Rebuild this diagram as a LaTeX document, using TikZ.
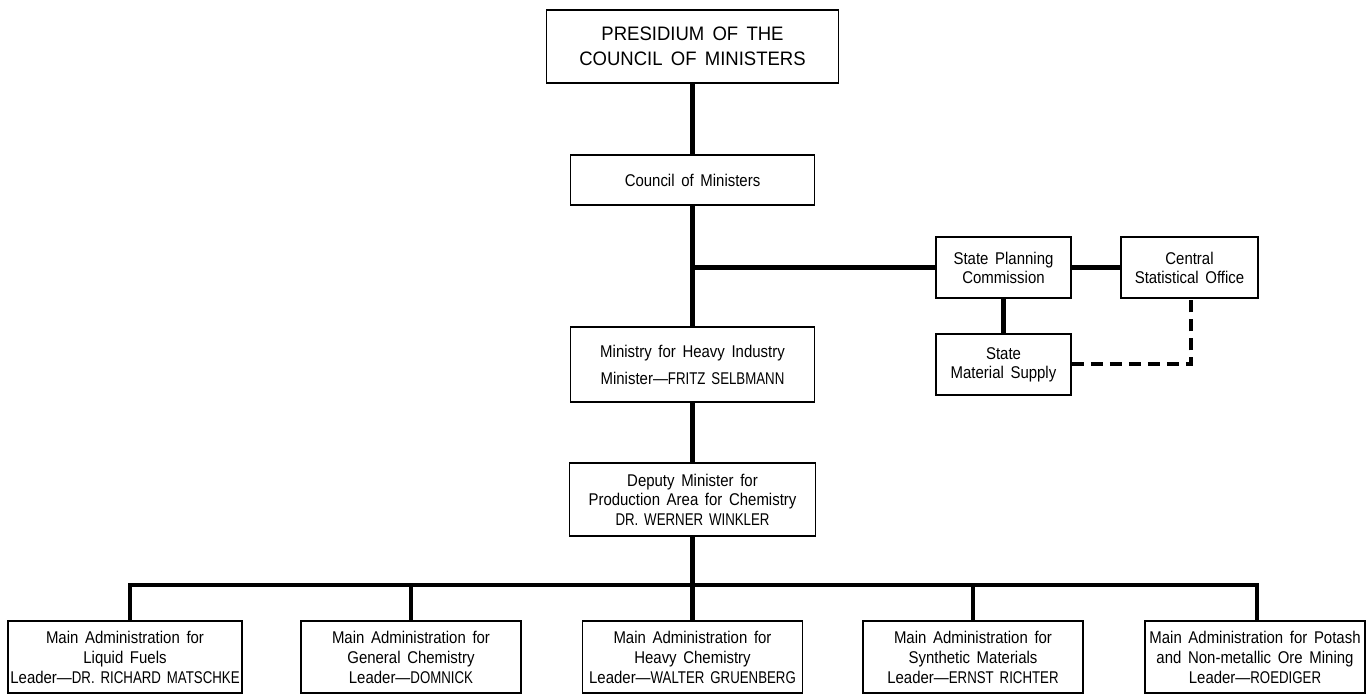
\documentclass[tikz,border=0pt]{standalone}
\usepackage{fontspec}
\setmainfont[FakeStretch=0.88,WordSpace=1.6]{Liberation Sans}
\newfontfamily\capsfont[FakeStretch=0.78,WordSpace=1.6]{Liberation Sans}
\newfontfamily\presfont[FakeStretch=0.95,WordSpace=1.6]{Liberation Sans}
\newcommand{\Cp}[1]{{\capsfont #1}}
\begin{document}
\begin{tikzpicture}[x=1pt,y=-1pt,
  box/.style={draw, line width=1.5pt, inner sep=0pt, align=center, fill=white,
    font=\fontsize{17}{20}\selectfont},
  link/.style={line width=4.5pt},
  dlink/.style={line width=4pt, dash pattern=on 12pt off 7pt}]
\useasboundingbox (0,0) rectangle (1370,694);
% nodes
\node[box, minimum width=292pt, minimum height=73pt, font=\presfont\fontsize{19.5}{25}\selectfont] (pres) at (692.5,46.5) {PRESIDIUM OF THE\\COUNCIL OF MINISTERS};
\node[box, minimum width=244pt, minimum height=50pt] (council) at (692.5,180) {Council of Ministers};
\node[box, minimum width=244pt, minimum height=75pt, font=\fontsize{17}{27}\selectfont] (ministry) at (692.5,364.5) {Ministry for Heavy Industry\\Minister\textemdash\Cp{FRITZ SELBMANN}};
\node[box, minimum width=246pt, minimum height=73pt, font=\fontsize{17}{19.5}\selectfont] (deputy) at (692.5,499.5) {Deputy Minister for\\Production Area for Chemistry\\\Cp{DR. WERNER WINKLER}};
\node[box, minimum width=135pt, minimum height=61pt, font=\fontsize{17}{19}\selectfont] (spc) at (1003.5,267.5) {State Planning\\Commission};
\node[box, minimum width=137pt, minimum height=61pt, font=\fontsize{17}{19}\selectfont] (cso) at (1189.5,267.5) {Central\\Statistical Office};
\node[box, minimum width=135pt, minimum height=61pt, font=\fontsize{17}{19}\selectfont] (sms) at (1003.5,364.5) {State\\Material Supply};
\node[box, minimum width=234pt, minimum height=72pt] (b1) at (125,657) {Main Administration for\\Liquid Fuels\\Leader\textemdash\Cp{DR. RICHARD MATSCHKE}};
\node[box, minimum width=220pt, minimum height=72pt] (b2) at (411,657) {Main Administration for\\General Chemistry\\Leader\textemdash\Cp{DOMNICK}};
\node[box, minimum width=220pt, minimum height=72pt] (b3) at (692.5,657) {Main Administration for\\Heavy Chemistry\\Leader\textemdash\Cp{WALTER GRUENBERG}};
\node[box, minimum width=220pt, minimum height=72pt] (b4) at (973,657) {Main Administration for\\Synthetic Materials\\Leader\textemdash\Cp{ERNST RICHTER}};
\node[box, minimum width=220pt, minimum height=72pt] (b5) at (1255,657) {Main Administration for Potash\\and Non-metallic Ore Mining\\Leader\textemdash\Cp{ROEDIGER}};
% helper coordinates
\coordinate (busL) at (130,585);
\coordinate (busR) at (1257,585);
\coordinate (dcorner) at (1191,364);
% connectors
\draw[link] (pres.south) -- (council.north);
\draw[link] (council.south) -- (ministry.north);
\draw[link] (council.south |- spc.west) -- (spc.west);
\draw[link] (spc.east) -- (cso.west);
\draw[link] (spc.south) -- (sms.north);
\draw[dlink] (sms.east |- dcorner) -- (dcorner) -- (cso.south -| dcorner);
\draw[link] (ministry.south) -- (deputy.north);
\draw[link] (deputy.south) -- (deputy.south |- busL);
\draw[link] (b1.north -| busL) -- (busL) -- (busR) -- (b5.north -| busR);
\draw[link] (b2.north) -- (b2.north |- busL);
\draw[link] (b3.north) -- (b3.north |- busL);
\draw[link] (b4.north) -- (b4.north |- busL);
\end{tikzpicture}
\end{document}
